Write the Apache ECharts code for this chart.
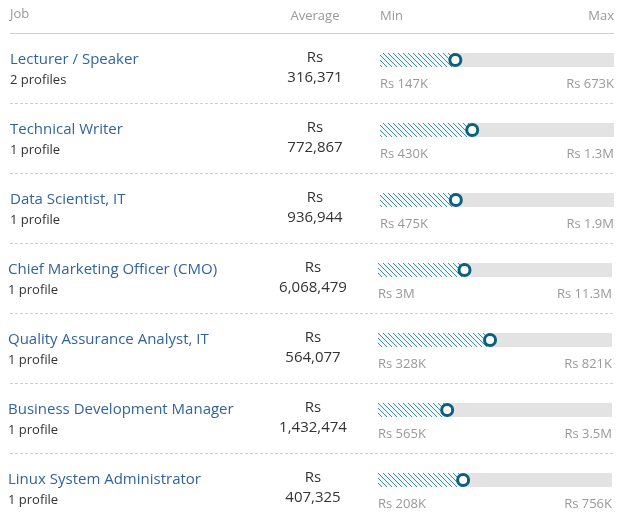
<!DOCTYPE html>
<html>
<head>
<meta charset="utf-8">
<script src="https://cdn.jsdelivr.net/npm/echarts@6/dist/echarts.min.js"></script>
<style>
html,body{margin:0;padding:0;background:#fff;}
#chart{width:621px;height:518px;}
</style>
</head>
<body>
<div id="chart"></div>
<script>
// ---- data ----
const jobs = ['Lecturer / Speaker', 'Technical Writer', 'Data Scientist, IT', 'Chief Marketing Officer (CMO)', 'Quality Assurance Analyst, IT', 'Business Development Manager', 'Linux System Administrator'];
const profiles = [2, 1, 1, 1, 1, 1, 1];
const averages = [316371, 772867, 936944, 6068479, 564077, 1432474, 407325];
const mins = [147000, 430000, 475000, 3000000, 328000, 565000, 208000];
const maxs = [673000, 1300000, 1900000, 11300000, 821000, 3500000, 756000];
const headers = ['Job', 'Average', 'Min', 'Max'];

// ---- helpers ----
const FONT = '"Open Sans", "Noto Sans", sans-serif';
function fmtShort(v) {
  if (v >= 1e6) return 'Rs ' + (+(v / 1e6).toFixed(1)) + 'M';
  return 'Rs ' + Math.round(v / 1e3) + 'K';
}
function fmtAvg(v) { return v.toLocaleString('en-US'); }

// hatch pattern (1px diagonal lines)
const T = 5;
const pat = document.createElement('canvas');
pat.width = T; pat.height = T;
const pc = pat.getContext('2d');
pc.fillStyle = '#f3f9fb'; pc.fillRect(0, 0, T, T);
pc.fillStyle = '#3d8ba8';
for (let k = 0; k < T; k++) pc.fillRect(k, k, 1, 1);

const ROW = 70, BAR_TOP = 53, BAR_H = 14, BAR_LEFT = 380, BAR_W = 234;
const grids = [], xAxes = [], yAxes = [], series = [], graphics = [];

// header
graphics.push({type: 'text', left: 10, top: 8, style: {text: headers[0], font: '13px ' + FONT, fill: '#999'}});
graphics.push({type: 'text', x: 315, y: 16, style: {text: headers[1], font: '13px ' + FONT, fill: '#999', align: 'center', verticalAlign: 'middle'}});
graphics.push({type: 'text', x: 380, y: 16, style: {text: headers[2], font: '13px ' + FONT, fill: '#999', align: 'left', verticalAlign: 'middle'}});
graphics.push({type: 'text', x: 614, y: 16, style: {text: headers[3], font: '13px ' + FONT, fill: '#999', align: 'right', verticalAlign: 'middle'}});
graphics.push({type: 'line', shape: {x1: 10, y1: 33.5, x2: 614, y2: 33.5}, style: {stroke: '#cfcfcf', lineWidth: 1}});

jobs.forEach((job, i) => {
  const sh = i >= 3 ? -2 : 0;
  const oy = i * ROW;
  grids.push({left: BAR_LEFT + sh, width: BAR_W, top: BAR_TOP + oy, height: BAR_H, containLabel: false});
  xAxes.push({type: 'value', gridIndex: i, min: mins[i], max: maxs[i], show: false});
  yAxes.push({type: 'category', gridIndex: i, data: [job], show: false});
  series.push({type: 'bar', xAxisIndex: i, yAxisIndex: i, data: [maxs[i]], barWidth: BAR_H, barGap: '-100%', clip: true,
    itemStyle: {color: '#e3e3e3'}, silent: true, z: 1});
  series.push({type: 'bar', xAxisIndex: i, yAxisIndex: i, data: [averages[i]], barWidth: BAR_H, barGap: '-100%', clip: true,
    itemStyle: {color: {image: pat, repeat: 'repeat'}}, silent: true, z: 2});
  series.push({type: 'scatter', xAxisIndex: i, yAxisIndex: i, data: [[averages[i], job]], symbol: 'circle', symbolSize: 11,
    itemStyle: {color: '#fff', borderColor: '#0d5f7e', borderWidth: 3, opacity: 1}, z: 5, clip: false});

  graphics.push({type: 'text', x: 10 + sh, y: 60 + oy, style: {text: job, font: '15px ' + FONT, fill: '#31649f', verticalAlign: 'middle'}});
  graphics.push({type: 'text', x: 10 + sh, y: 80 + oy, style: {text: profiles[i] + (profiles[i] === 1 ? ' profile' : ' profiles'), font: '13px ' + FONT, fill: '#333', verticalAlign: 'middle'}});
  graphics.push({type: 'text', x: 315 + sh, y: 58 + oy, style: {text: 'Rs', font: '15px ' + FONT, fill: '#333', align: 'center', verticalAlign: 'middle'}});
  graphics.push({type: 'text', x: 315 + sh, y: 78 + oy, style: {text: fmtAvg(averages[i]), font: '15px ' + FONT, fill: '#333', align: 'center', verticalAlign: 'middle'}});
  graphics.push({type: 'text', x: BAR_LEFT + sh, y: 84 + oy, style: {text: fmtShort(mins[i]), font: '13px ' + FONT, fill: '#999', align: 'left', verticalAlign: 'middle'}});
  graphics.push({type: 'text', x: BAR_LEFT + BAR_W + sh, y: 84 + oy, style: {text: fmtShort(maxs[i]), font: '13px ' + FONT, fill: '#999', align: 'right', verticalAlign: 'middle'}});
  if (i < jobs.length - 1) {
    graphics.push({type: 'line', shape: {x1: 10, y1: 103.5 + oy, x2: 614, y2: 103.5 + oy}, style: {stroke: '#cfcfcf', lineWidth: 1, lineDash: [3, 2]}});
  }
});

const chart = echarts.init(document.getElementById('chart'), null, {renderer: 'canvas'});
chart.setOption({
  animation: false,
  backgroundColor: '#fff',
  grid: grids,
  xAxis: xAxes,
  yAxis: yAxes,
  series: series,
  graphic: graphics
});
</script>
</body>
</html>
